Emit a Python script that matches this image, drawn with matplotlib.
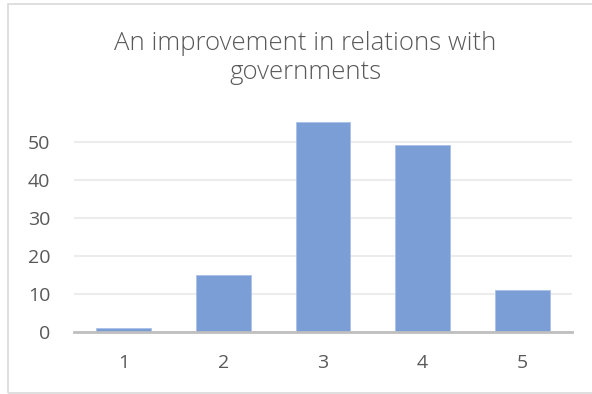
import matplotlib
matplotlib.use("Agg")
import matplotlib.pyplot as plt
from matplotlib.patches import Rectangle

categories = ['1', '2', '3', '4', '5']
counts = [1, 15, 55, 49, 11]
y_ticks = [0, 10, 20, 30, 40, 50]
title = 'An improvement in relations with\ngovernments'

plt.rcParams['font.family'] = ['Open Sans', 'DejaVu Sans']
text_gray = '#595959'

fig = plt.figure(figsize=(5.92, 3.94), dpi=100)
ax = fig.add_axes([74 / 592, 62 / 394, 498 / 592, 228.6 / 394])

x = range(len(categories))
ax.bar(x, counts, width=0.55, color='#7b9ed6', edgecolor='#a9c0e6', linewidth=0.6, zorder=3)

ax.set_xlim(-0.5, len(categories) - 0.5)
ax.set_ylim(0, 60)
ax.set_xticks(list(x))
ax.set_xticklabels(categories)
ax.set_yticks(y_ticks)
ax.yaxis.grid(True, color='#ececec', linewidth=1.5, zorder=0)
ax.tick_params(length=0, labelsize=14, colors=text_gray)
ax.tick_params(axis='x', pad=16)
ax.tick_params(axis='y', pad=17)
for s in ['top', 'right', 'left']:
    ax.spines[s].set_visible(False)
ax.spines['bottom'].set_color('#bfbfbf')
ax.spines['bottom'].set_linewidth(2)
ax.spines['bottom'].set_zorder(4)

fig.text(305 / 592, 1 - 58 / 394, title, ha='center', va='center',
         fontsize=18.5, color=text_gray, fontweight='light', linespacing=1.25)

# chart area border
fig.patches.append(Rectangle((8 / 592, 1 / 394), 1.0, 389 / 394,
                             transform=fig.transFigure, fill=False,
                             edgecolor='#d9d9d9', linewidth=1.2))

fig.savefig('out.png', dpi=100)
